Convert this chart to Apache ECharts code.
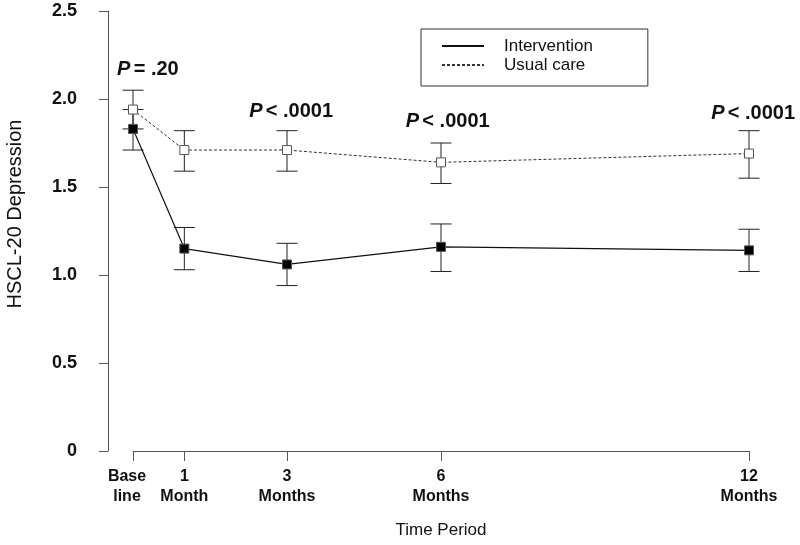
<!DOCTYPE html>
<html>
<head>
<meta charset="utf-8">
<script src="https://cdn.jsdelivr.net/npm/echarts@6/dist/echarts.min.js"></script>
<style>
  html, body { margin: 0; padding: 0; background: #fff; }
  #chart { width: 800px; height: 545px; }
</style>
</head>
<body>
<div id="chart"></div>
<script>
// ---- data ----
const months = [0, 1, 3, 6, 12];
const xTickLabels = ['Base\nline', '1\nMonth', '3\nMonths', '6\nMonths', '12\nMonths'];
const yTickLabels = ['0', '0.5', '1.0', '1.5', '2.0', '2.5'];

const interventionMean = [1.83, 1.15, 1.06, 1.16, 1.14];
const interventionLow  = [1.71, 1.03, 0.94, 1.02, 1.02];
const interventionHigh = [1.94, 1.27, 1.18, 1.29, 1.26];

const usualMean = [1.94, 1.71, 1.71, 1.64, 1.69];
const usualLow  = [1.83, 1.59, 1.59, 1.52, 1.55];
const usualHigh = [2.05, 1.82, 1.82, 1.75, 1.82];

const pLabelX = [0.29, 3.08, 6.13, 12.08];
const pLabelY = [2.17, 1.93, 1.87, 1.915];
const pLabelText = ['= .20', '< .0001', '< .0001', '< .0001'];

// ---- build ----
const FONT = '"Liberation Sans", Arial, sans-serif';
const zip = (a, b) => a.map((v, i) => [v, b[i]]);
const errData = (lo, hi) => months.map((m, i) => [m, lo[i], hi[i]]);

function errorBarRender(params, api) {
  const x = api.value(0), lo = api.value(1), hi = api.value(2);
  const pLo = api.coord([x, lo]);
  const pHi = api.coord([x, hi]);
  const hw = 10.5;
  const style = { stroke: '#222', lineWidth: 1, fill: null };
  return {
    type: 'group',
    children: [
      { type: 'line', shape: { x1: pLo[0], y1: pLo[1], x2: pHi[0], y2: pHi[1] }, style },
      { type: 'line', shape: { x1: pLo[0] - hw, y1: pLo[1], x2: pLo[0] + hw, y2: pLo[1] }, style },
      { type: 'line', shape: { x1: pHi[0] - hw, y1: pHi[1], x2: pHi[0] + hw, y2: pHi[1] }, style }
    ]
  };
}

const chart = echarts.init(document.getElementById('chart'), null, { renderer: 'canvas' });
chart.setOption({
  backgroundColor: '#fff',
  animation: false,
  textStyle: { fontFamily: FONT },
  grid: { left: 133, right: 51, top: 11, bottom: 94, containLabel: false, outerBoundsMode: 'none' },
  legend: {
    data: ['Intervention', 'Usual care'],
    orient: 'vertical',
    left: 421, top: 29,
    padding: [5, 55, 9, 20],
    itemWidth: 42, itemHeight: 18, itemGap: -5,
    borderColor: '#333', borderWidth: 1,
    selectedMode: false,
    itemStyle: { opacity: 0 },
    textStyle: { fontSize: 17, color: '#111', lineHeight: 18, padding: [6, 0, 0, 15] }
  },
  xAxis: {
    type: 'value', min: 0, max: 12,
    name: 'Time Period', nameLocation: 'middle', nameGap: 71,
    nameTextStyle: { fontSize: 17, color: '#111' },
    axisLine: { show: true, onZero: false, lineStyle: { color: '#555', width: 1 } },
    axisTick: { show: true, length: 10, customValues: months, lineStyle: { color: '#555' } },
    axisLabel: {
      customValues: months, margin: 16, showMinLabel: true, showMaxLabel: true,
      hideOverlap: false, interval: 0,
      formatter: v => {
        const t = xTickLabels[months.indexOf(v)];
        return v === months[0] ? '{base|' + t.replace('\n', '}\n{base|') + '}' : t;
      },
      fontSize: 16, fontWeight: 'bold', color: '#111', lineHeight: 20,
      rich: { base: { fontSize: 16, fontWeight: 'bold', color: '#111', lineHeight: 20, padding: [0, 12, 0, 0] } }
    },
    splitLine: { show: false }
  },
  yAxis: {
    type: 'value', min: 0, max: 2.5, interval: 0.5, offset: 25,
    name: 'HSCL-20 Depression', nameLocation: 'middle', nameGap: 83,
    nameTextStyle: { fontSize: 20, color: '#111', padding: [0, 0, 0, 34] },
    axisLine: { show: true, onZero: false, lineStyle: { color: '#555', width: 1 } },
    axisTick: { show: true, length: 9, lineStyle: { color: '#555' } },
    axisLabel: {
      margin: 31, fontSize: 18, fontWeight: 'bold', color: '#111',
      formatter: (v) => yTickLabels[Math.round(v / 0.5)]
    },
    splitLine: { show: false }
  },
  series: [
    {
      name: 'ebI', type: 'custom', renderItem: errorBarRender,
      data: errData(interventionLow, interventionHigh), z: 1, silent: true
    },
    {
      name: 'ebU', type: 'custom', renderItem: errorBarRender,
      data: errData(usualLow, usualHigh), z: 1, silent: true
    },
    {
      name: 'Usual care', type: 'line', data: zip(months, usualMean), z: 3,
      symbol: 'rect', symbolSize: 9, showAllSymbol: true,
      lineStyle: { color: '#333', width: 1, type: [3, 2] },
      itemStyle: { color: '#fff', borderColor: '#555', borderWidth: 1 }
    },
    {
      name: 'Intervention', type: 'line', data: zip(months, interventionMean), z: 4,
      symbol: 'rect', symbolSize: 9, showAllSymbol: true,
      lineStyle: { color: '#111', width: 1.2 },
      itemStyle: { color: '#000', borderColor: '#555', borderWidth: 1 }
    },
    {
      name: 'pvals', type: 'scatter', z: 5, silent: true, clip: false,
      data: pLabelX.map((x, i) => [x, pLabelY[i]]),
      symbolSize: 1, itemStyle: { color: 'rgba(0,0,0,0)', opacity: 1 },
      label: {
        show: true, position: 'inside', color: '#111', opacity: 1,
        formatter: p => '{i|P} {b|' + pLabelText[p.dataIndex] + '}',
        rich: {
          i: { fontSize: 20, fontWeight: 'bold', fontStyle: 'italic', color: '#111', fontFamily: FONT },
          b: { fontSize: 20, fontWeight: 'bold', color: '#111', fontFamily: FONT }
        }
      }
    }
  ]
});
</script>
</body>
</html>
